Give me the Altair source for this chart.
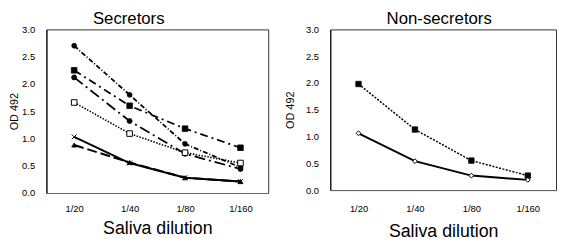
import altair as alt
import pandas as pd

dilutions = ["1/20", "1/40", "1/80", "1/160"]

# Secretors
sec_circle_a = [2.70, 1.80, 0.90, 0.47]
sec_square_b = [2.25, 1.60, 1.18, 0.83]
sec_circle_c = [2.12, 1.32, 0.72, 0.44]
sec_open_sq = [1.66, 1.09, 0.74, 0.55]
sec_cross = [1.03, 0.55, 0.28, 0.21]
sec_triangle = [0.88, 0.56, 0.28, 0.21]

# Non-secretors
non_square = [1.98, 1.13, 0.55, 0.27]
non_diamond = [1.06, 0.54, 0.27, 0.19]

FONT = "Liberation Sans"
XSHAPE = "M-1,-1L1,1M-1,1L1,-1"


def layer(values, dash, shape, filled, size, width, xaxis, yaxis):
    df = pd.DataFrame({"dil": dilutions, "od": values})
    base = alt.Chart(df).encode(
        x=alt.X("dil:N", sort=dilutions, scale=alt.Scale(type="point", padding=0.5),
                axis=xaxis, title="Saliva dilution"),
        y=alt.Y("od:Q", scale=alt.Scale(domain=[0, 3], nice=False),
                axis=yaxis, title="OD 492"),
    )
    line_kw = dict(color="black", strokeWidth=width)
    if dash:
        line_kw["strokeDash"] = dash
    line = base.mark_line(**line_kw)
    if filled:
        pts = base.mark_point(shape=shape, filled=True, fill="black", stroke="black",
                              strokeWidth=0.8, size=size, opacity=1)
    else:
        pts = base.mark_point(shape=shape, filled=False, fill="white", stroke="black",
                              strokeWidth=1, size=size, opacity=1)
    return [line, pts]


def axes(lab_pad_x, title_pad_x, title_pad_y):
    xaxis = alt.Axis(labelAngle=0, ticks=False, grid=False, labelPadding=lab_pad_x,
                     titlePadding=title_pad_x, labelFontSize=9.5, titleFontSize=18,
                     labelFont=FONT, titleFont=FONT, titleFontWeight="normal",
                     labelColor="black", titleColor="black", domainColor="#666")
    yaxis = alt.Axis(values=[0, 0.5, 1.0, 1.5, 2.0, 2.5, 3.0], format=".1f", ticks=False,
                     grid=False, labelPadding=12, titlePadding=title_pad_y,
                     labelFontSize=9.5, titleFontSize=11, labelFont=FONT, titleFont=FONT,
                     titleFontWeight="normal", labelColor="black", titleColor="black",
                     domainColor="black")
    return xaxis, yaxis


xa, ya = axes(11, 7, 2)
left_layers = []
left_layers += layer(sec_circle_a, [5, 2, 1, 2], "circle", True, 24, 1.8, xa, ya)
left_layers += layer(sec_square_b, [8, 4, 2, 4], "square", True, 32, 1.8, xa, ya)
left_layers += layer(sec_circle_c, [11, 4, 2, 4], "circle", True, 26, 1.8, xa, ya)
left_layers += layer(sec_open_sq, [1.5, 1.5], "square", False, 32, 1.6, xa, ya)
left_layers += layer(sec_triangle, [10, 4], "triangle-up", True, 24, 2, xa, ya)
left_layers += layer(sec_cross, None, XSHAPE, False, 24, 2, xa, ya)

left = alt.layer(*left_layers).properties(
    width=225, height=166,
    title=alt.TitleParams("Secretors", fontSize=17, font=FONT, fontWeight="normal",
                          color="black", dx=-29, offset=-4),
)

xb, yb = axes(14, 10, 10)
right_layers = []
right_layers += layer(non_square, [2, 1.5], "square", True, 30, 1.5, xb, yb)
right_layers += layer(non_diamond, None, "diamond", False, 24, 2, xb, yb)

right = alt.layer(*right_layers).properties(
    width=229, height=163,
    title=alt.TitleParams("Non-secretors", fontSize=17, font=FONT, fontWeight="normal",
                          color="black", dx=-4, offset=-4),
)

chart = alt.hconcat(left, right, spacing=15).properties(padding=0).configure_view(
    stroke="#333", strokeWidth=1
)

chart.save("out.html", embed_options={"renderer": "svg", "actions": False})
